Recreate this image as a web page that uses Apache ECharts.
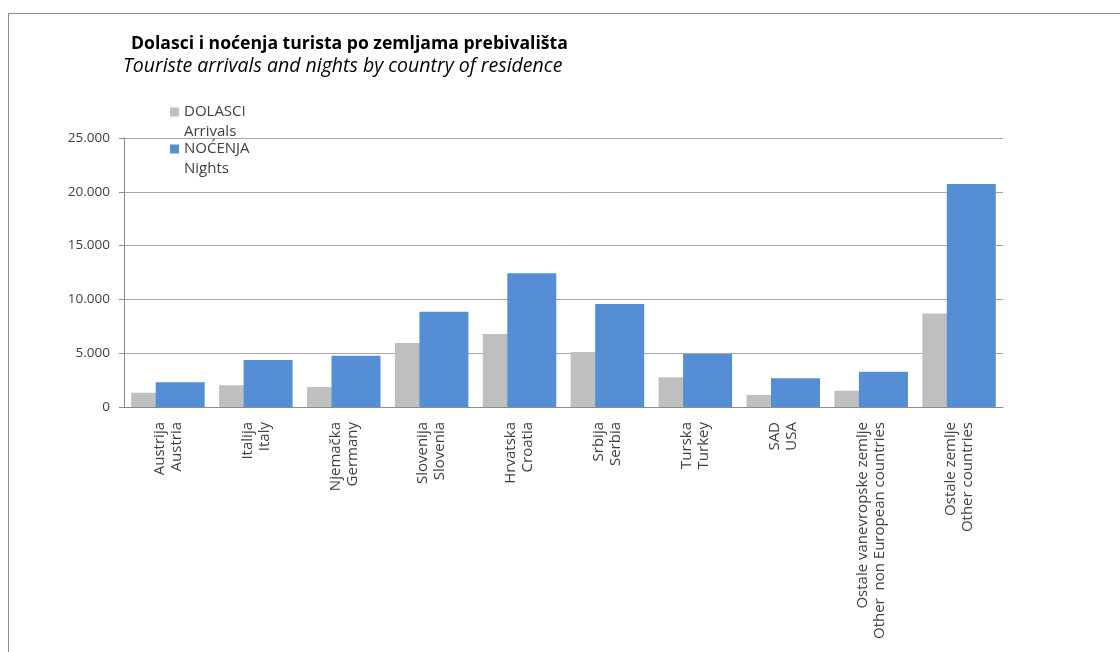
<!DOCTYPE html>
<html><head><meta charset="utf-8">
<script src="https://cdn.jsdelivr.net/npm/echarts@6/dist/echarts.min.js"></script>
<style>
html,body{margin:0;padding:0;background:#fff;}
#frame{position:absolute;left:8px;top:13px;width:1200px;height:700px;border:1px solid #8c8c8c;}
#c{position:absolute;left:0;top:0;width:1120px;height:652px;}
</style></head>
<body>
<div id="frame"></div>
<div id="c"></div>
<script>
const categories = [
  ['Austrija','Austria'],
  ['Italija','Italy'],
  ['Njemačka','Germany'],
  ['Slovenija','Slovenia'],
  ['Hrvatska','Croatia'],
  ['Srbija','Serbia'],
  ['Turska','Turkey'],
  ['SAD','USA'],
  ['Ostale vanevropske zemlje','Other  non European countries'],
  ['Ostale zemlje','Other countries']
];
const arrivals = [1330, 2020, 1860, 5950, 6780, 5110, 2760, 1120, 1520, 8700];
const nights   = [2300, 4370, 4770, 8860, 12420, 9570, 4930, 2670, 3280, 20720];
const seriesNames = ['DOLASCI\nArrivals', 'NOĆENJA\nNights'];
const yTicks = { min: 0, max: 25000, interval: 5000 };

const font = 'Open Sans';
const legendIcon = 'path://M0,5.5h9v9h-9z M0,0h0.001 M0,40h0.001';
const chart = echarts.init(document.getElementById('c'));
chart.setOption({
  animation: false,
  textStyle: { fontFamily: font },
  title: [
    { text: 'Dolasci i noćenja turista po zemljama prebivališta', left: 131, top: 35, padding: 0,
      textStyle: { fontFamily: font, fontSize: 17.6, fontWeight: 'bold', color: '#000' } },
    { text: 'Touriste arrivals and nights by country of residence', left: 123, top: 56, padding: 0,
      textStyle: { fontFamily: font, fontSize: 19.5, fontStyle: 'italic', fontWeight: 'normal', color: '#000' } }
  ],
  legend: {
    orient: 'vertical', left: 170, top: 102, padding: 0, itemWidth: 9, itemHeight: 40, itemGap: -3,
    icon: legendIcon,
    textStyle: { fontFamily: font, fontSize: 15, color: '#404040', lineHeight: 20 },
    data: seriesNames
  },
  grid: { left: 124, right: 117, top: 138, bottom: 245 },
  xAxis: {
    type: 'category',
    data: categories.map(c => c.join('\n')),
    axisLine: { lineStyle: { color: '#8c8c8c' } },
    axisTick: { show: false },
    axisLabel: {
      rotate: 90, interval: 0, margin: 15,
      fontFamily: font, fontSize: 15, color: '#404040', lineHeight: 17
    }
  },
  yAxis: {
    type: 'value', min: yTicks.min, max: yTicks.max, interval: yTicks.interval,
    axisLine: { show: true, lineStyle: { color: '#8c8c8c' } },
    axisTick: { show: true, length: 5, lineStyle: { color: '#8c8c8c' } },
    splitLine: { lineStyle: { color: '#a6a6a6' } },
    axisLabel: {
      margin: 14, fontFamily: font, fontSize: 13.5, color: '#404040',
      formatter: v => String(v).replace(/\B(?=(\d{3})+(?!\d))/g, '.')
    }
  },
  series: [
    { name: seriesNames[0], type: 'bar', data: arrivals, barWidth: 49, barGap: '-50%',
      itemStyle: { color: '#BFBFBF' } },
    { name: seriesNames[1], type: 'bar', data: nights, barWidth: 49, barGap: '-50%',
      itemStyle: { color: '#558ED5' } }
  ]
});
</script>
</body></html>
